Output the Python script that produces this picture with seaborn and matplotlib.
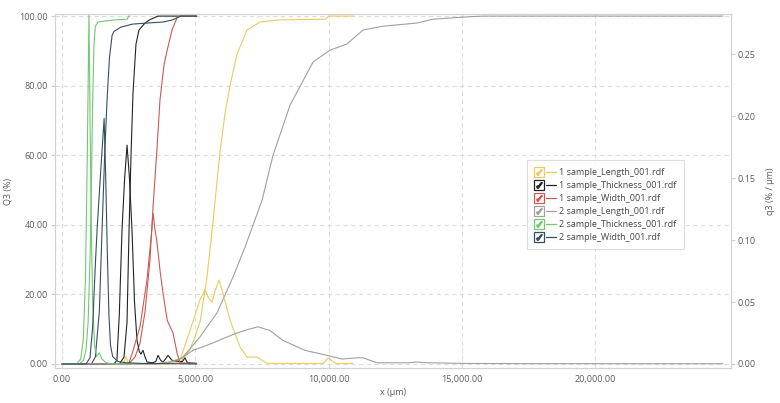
import numpy as np
import pandas as pd
import seaborn as sns
import matplotlib.pyplot as plt
from matplotlib.lines import Line2D
from matplotlib.legend_handler import HandlerTuple
from matplotlib.ticker import FuncFormatter

sns.set_style("white")
plt.rcParams['font.family'] = ['Open Sans', 'DejaVu Sans']

samples = ['1 sample_Length_001.rdf', '1 sample_Thickness_001.rdf', '1 sample_Width_001.rdf',
           '2 sample_Length_001.rdf', '2 sample_Thickness_001.rdf', '2 sample_Width_001.rdf']
colors = ['#eacb5c', '#232323', '#cb5a54', '#a0a0a0', '#72c772', '#34505f']

# Q3 cumulative (%), left axis
len1_cum_x = [0, 4000, 4427, 4802, 5178, 5440, 5666, 5928, 6116, 6303, 6566, 6941, 7429, 8179, 9868, 10018, 10918]
len1_cum_y = [0, 0, 0.5, 4, 12, 25, 41, 61, 72, 80, 89, 96, 98.3, 98.9, 99.1, 100, 100]
thk1_cum_x = [0, 2150, 2326, 2439, 2514, 2589, 2664, 2776, 2889, 3114, 3302, 3602, 5050]
thk1_cum_y = [0, 0, 2, 12, 38, 60, 78, 92, 96, 98, 99, 100, 100]
wid1_cum_x = [0, 2500, 2739, 2926, 3114, 3302, 3414, 3564, 3677, 3827, 3940, 4127, 4315, 4427, 5050]
wid1_cum_y = [0, 0, 2, 6, 15, 30, 45, 62, 76, 86, 90, 96, 99.5, 100, 100]
len2_cum_x = [0, 3500, 4100, 4502, 5178, 5816, 6416, 6866, 7504, 7917, 8555, 9418, 10055, 10693, 11294,
              12044, 13320, 13920, 15046, 15796, 24800]
len2_cum_y = [0, 0, 0.5, 1.7, 7.8, 14.7, 25, 33.6, 47, 60, 74.4, 86.8, 90.2, 92, 96,
              97.1, 98, 99.1, 99.7, 100, 100]
thk2_cum_x = [0, 650, 800, 900, 980, 1050, 1100, 1150, 1200, 1250, 1350, 1600, 2000, 2450, 2500, 2550]
thk2_cum_y = [0, 0, 1, 4, 12, 30, 50, 75, 92, 97, 98.3, 98.6, 98.9, 99.1, 100, 100]
wid2_cum_x = [0, 1100, 1250, 1400, 1500, 1600, 1690, 1780, 1880, 1950, 2200, 2650, 3200, 3800, 4150, 4450, 5050]
wid2_cum_y = [0, 0, 2, 15, 38, 60, 76, 88, 94.5, 95.6, 96.8, 97.7, 98, 98.3, 98.9, 100, 100]

# q3 density (% / um), right axis
len1_den_x = [0, 2300, 2400, 2500, 3000, 4000, 4427, 4802, 5178, 5365, 5500, 5628, 5760, 5891, 6000,
              6303, 6679, 6940, 7316, 7690, 9800, 9980, 10280, 10920]
len1_den_y = [0, 0, 0.006, 0, 0, 0.0005, 0.003, 0.027, 0.052, 0.0597, 0.053, 0.050, 0.060, 0.0677, 0.06,
              0.0355, 0.0137, 0.0056, 0.0056, 0.0005, 0.0005, 0.0048, 0.0005, 0.0005]
thk1_den_x = [0, 1950, 2060, 2150, 2251, 2350, 2440, 2530, 2626, 2720, 2814, 2900, 2960, 3039, 3110,
              3189, 3400, 3520, 3602, 3700, 3790, 3880, 3977, 4050, 4127, 4400, 4520, 4615, 4700, 5050]
thk1_den_y = [0, 0, 0.003, 0.04, 0.108, 0.15, 0.1765, 0.15, 0.108, 0.05, 0.019, 0.01, 0.008, 0.011, 0.006,
              0.0016, 0.001, 0.002, 0.007, 0.003, 0.0015, 0.004, 0.007, 0.005, 0.003, 0.002, 0.002, 0.005, 0.001, 0.0005]
wid1_den_x = [0, 2500, 2626, 2926, 3189, 3377, 3414, 3480, 3564, 3680, 3790, 3950, 4165, 4315, 4427, 5050]
wid1_den_y = [0, 0, 0.008, 0.03, 0.068, 0.11, 0.1217, 0.11, 0.098, 0.075, 0.057, 0.035, 0.025, 0.009, 0.001, 0.0005]
len2_den_x = [0, 3500, 4100, 4502, 4915, 5300, 5666, 6100, 6566, 7000, 7354, 7800, 8292, 9117, 9943,
              10506, 10800, 11068, 11294, 11819, 13000, 13320, 13700, 15046, 17000, 24800]
len2_den_y = [0, 0, 0.002, 0.005, 0.011, 0.014, 0.017, 0.021, 0.025, 0.028, 0.030, 0.027, 0.019, 0.011, 0.007,
              0.004, 0.0045, 0.005, 0.005, 0.001, 0.001, 0.0016, 0.001, 0.0005, 0.0003, 0.0002]
thk2_den_x = [0, 550, 700, 800, 880, 950, 1010, 1050, 1100, 1150, 1220, 1300, 1400, 1500, 1650, 1900, 2550]
thk2_den_y = [0, 0, 0.004, 0.02, 0.07, 0.17, 0.281, 0.20, 0.11, 0.05, 0.015, 0.006, 0.009, 0.004, 0.001, 0, 0]
wid2_den_x = [0, 900, 1050, 1150, 1250, 1320, 1450, 1580, 1640, 1700, 1760, 1820, 1900, 2100, 2400, 3000, 4000, 5050]
wid2_den_y = [0, 0, 0.005, 0.03, 0.08, 0.11, 0.155, 0.198, 0.15, 0.09, 0.04, 0.015, 0.006, 0.002, 0.001, 0.0005, 0.0003, 0]

cum = [(len1_cum_x, len1_cum_y), (thk1_cum_x, thk1_cum_y), (wid1_cum_x, wid1_cum_y),
       (len2_cum_x, len2_cum_y), (thk2_cum_x, thk2_cum_y), (wid2_cum_x, wid2_cum_y)]
den = [(len1_den_x, len1_den_y), (thk1_den_x, thk1_den_y), (wid1_den_x, wid1_den_y),
       (len2_den_x, len2_den_y), (thk2_den_x, thk2_den_y), (wid2_den_x, wid2_den_y)]

df_cum = pd.concat([pd.DataFrame({'x': cx, 'Q3': cy, 'sample': s}) for s, (cx, cy) in zip(samples, cum)])
df_den = pd.concat([pd.DataFrame({'x': dx, 'q3': dy, 'sample': s}) for s, (dx, dy) in zip(samples, den)])
pal = dict(zip(samples, colors))

fig = plt.figure(figsize=(7.8, 4.03), dpi=100)
ax = fig.add_axes([55 / 780, 35 / 403, 676 / 780, 354 / 403])
ax2 = ax.twinx()

sns.lineplot(data=df_cum, x='x', y='Q3', hue='sample', palette=pal, estimator=None,
             lw=0.8, legend=False, ax=ax)
sns.lineplot(data=df_den, x='x', y='q3', hue='sample', palette=pal, estimator=None,
             lw=0.8, legend=False, ax=ax2)

ax.set_xlim(-263, 25100)
ax.set_ylim(-1.15, 100.6)
ax2.set_ylim(-1.15 * 0.002806, 100.6 * 0.002806)

ax.set_xticks([0, 5000, 10000, 15000, 20000])
ax.set_yticks([0, 20, 40, 60, 80, 100])
ax2.set_yticks([0, 0.05, 0.10, 0.15, 0.20, 0.25])
ax.xaxis.set_major_formatter(FuncFormatter(lambda v, p: f'{v:,.2f}'))
ax.yaxis.set_major_formatter(FuncFormatter(lambda v, p: f'{v:.2f}'))
ax2.yaxis.set_major_formatter(FuncFormatter(lambda v, p: f'{v:.2f}'))

ax.grid(True, ls=(0, (4, 3)), color='#dcdcdc', lw=0.8)
ax2.grid(False)
for a in (ax, ax2):
    for sp in a.spines.values():
        sp.set_color('#d2d2d2')
        sp.set_linewidth(0.8)
ax.tick_params(axis='y', length=3, color='#cccccc', labelsize=6.5, labelcolor='#5a5a5a', pad=2)
ax.tick_params(axis='x', length=0, labelsize=6.5, labelcolor='#5a5a5a', pad=5)
ax2.tick_params(axis='y', length=3, color='#cccccc', labelsize=6.5, labelcolor='#5a5a5a', pad=2)

ax.set_xlabel('x (µm)', fontsize=6.5, color='#5a5a5a', labelpad=3)
ax.set_ylabel('Q3 (%)', fontsize=6.5, color='#5a5a5a', labelpad=5)
ax2.set_ylabel('q3 (% / µm)', fontsize=6.5, color='#5a5a5a', labelpad=7)


class Pair(tuple):
    pass


handles = []
for c in colors:
    box = Line2D([], [], marker='s', markersize=6.5, markerfacecolor='white', markeredgecolor=c,
                 markeredgewidth=0.9, linestyle='None')
    chk = Line2D([], [], marker=r'$\checkmark$', markersize=4, color=c, linestyle='None')
    ln = Line2D([], [], color=c, lw=0.9)
    handles.append(Pair(((box, chk), ln)))

leg = ax2.legend(handles, samples, loc='upper left', bbox_to_anchor=(0.691, 0.599),
                 handler_map={Pair: HandlerTuple(ndivide=None, pad=0.3), tuple: HandlerTuple(ndivide=1)},
                 fontsize=6.5, handlelength=2.4, handletextpad=0.4, labelspacing=0.45,
                 frameon=True, fancybox=False, edgecolor='#d6d6d6', borderpad=0.8)
leg.get_frame().set_linewidth(0.8)
for t in leg.get_texts():
    t.set_color('#444444')

plt.savefig('out.png', dpi=100)
